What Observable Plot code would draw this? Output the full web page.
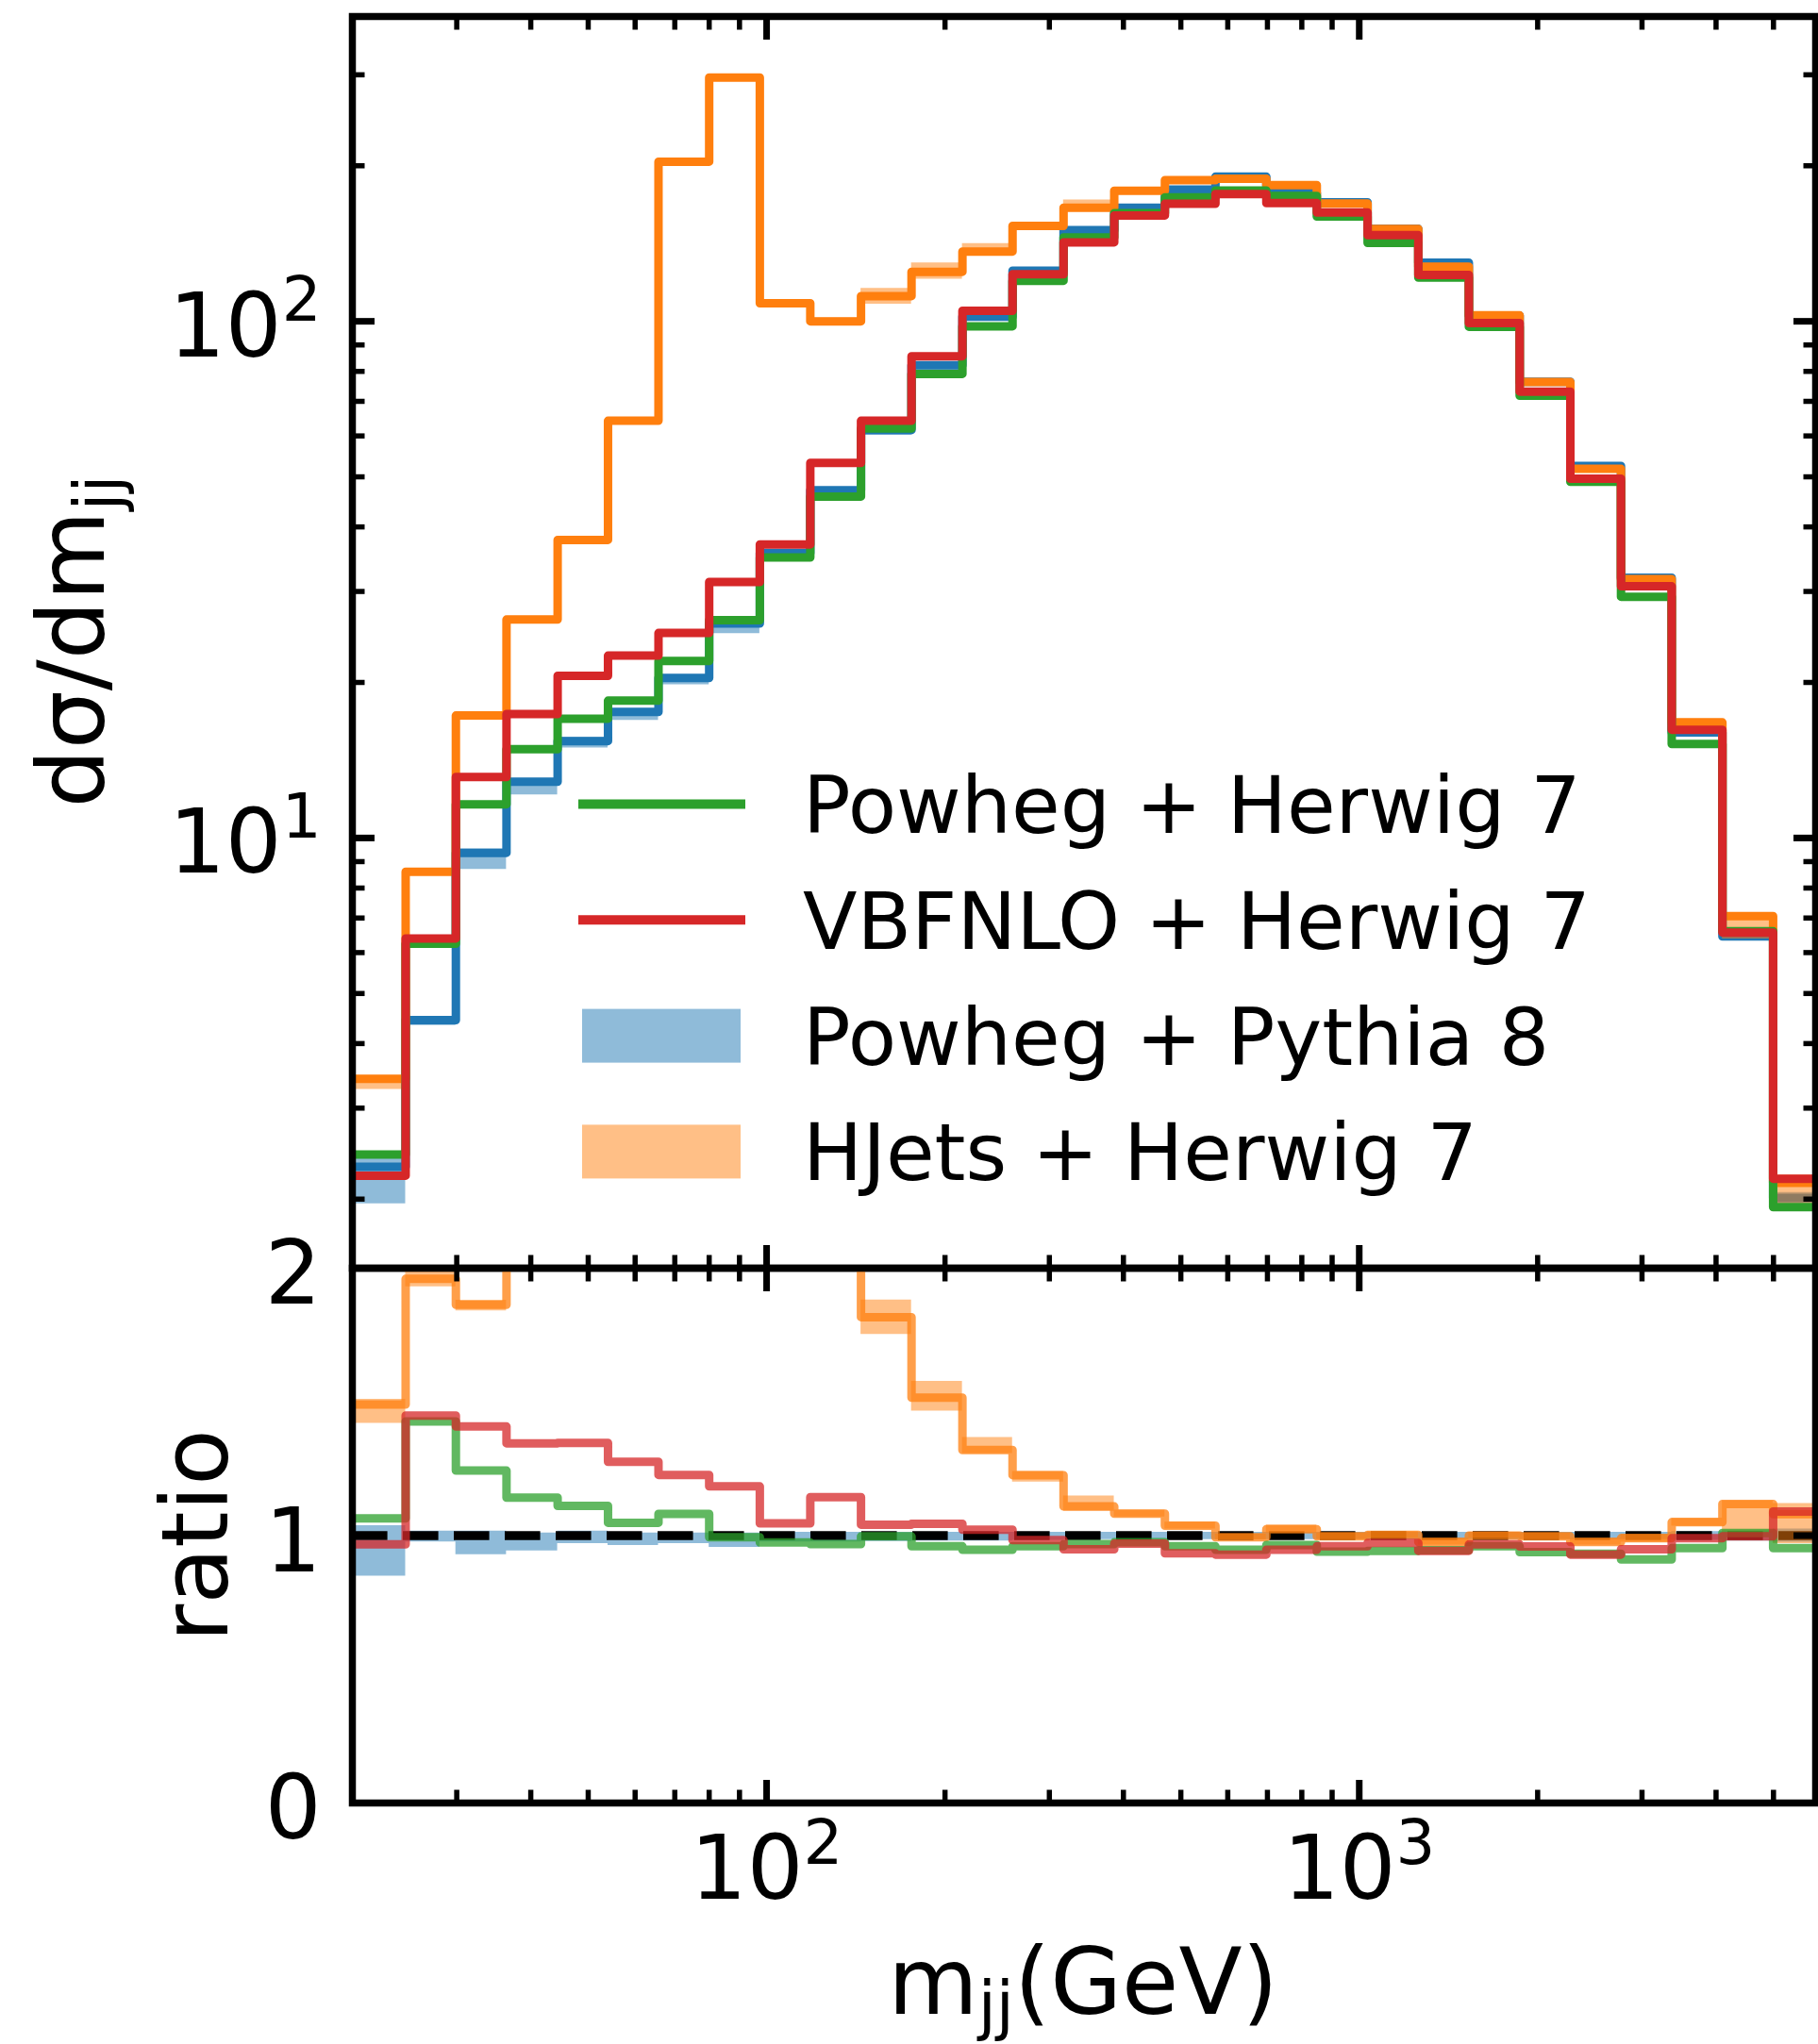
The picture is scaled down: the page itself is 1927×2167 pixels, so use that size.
<!DOCTYPE html>
<html>
<head>
<meta charset="utf-8">
<script src="https://cdn.jsdelivr.net/npm/d3@7"></script>
<script src="https://cdn.jsdelivr.net/npm/@observablehq/plot@0.6"></script>
<style>
  html, body { margin: 0; padding: 0; background: #fff; }
  #figure { position: relative; width: 1927px; height: 2167px; background: #fff; overflow: hidden; }
  #figure > svg { position: absolute; left: 0; overflow: visible; }
</style>
</head>
<body>
<div id="figure"></div>
<script>
// ---- m_jj histogram: bin edges (GeV) ----
const binEdges = [20, 24.6, 29.9, 36.4, 44.4, 54.0, 65.7, 80.0, 97.4, 118.5, 144.3, 175.6, 214, 260, 317, 386, 470, 572, 697, 848, 1033, 1258, 1531, 1865, 2271, 2765, 3367, 4100, 4993, 6080];

// ---- dσ/dm_jj per bin ----
const powhegHerwig = [2.44, 6.24, 11.62, 14.85, 17.02, 18.44, 22.0, 26.4, 34.9, 45.8, 62.0, 79.1, 97.8, 119.8, 145.3, 162.0, 173.8, 179.2, 174.8, 159.5, 141.8, 121.5, 97.6, 71.8, 48.9, 29.3, 15.2, 6.6, 1.93];
const vbfnloHerwig = [2.22, 6.39, 13.12, 17.37, 20.6, 22.54, 24.93, 31.3, 37.0, 53.2, 64.2, 85.6, 104.8, 123.3, 142.2, 160.3, 168.8, 176.4, 169.4, 162.4, 146.8, 123.0, 99.2, 73.1, 49.6, 30.7, 16.2, 6.56, 2.19];
const powhegPythia = [2.31, 4.44, 9.36, 12.85, 15.4, 17.54, 20.4, 26.0, 35.6, 47.1, 61.6, 82.2, 102.1, 125.3, 150.1, 165.8, 179.8, 190.5, 177.2, 170.0, 151.0, 129.9, 102.6, 76.4, 52.5, 31.9, 16.0, 6.45, 2.01];
const hjetsHerwig  = [3.42, 8.6, 17.26, 26.47, 37.75, 64.2, 203.7, 296.3, 108.4, 100.0, 111.9, 124.7, 136.5, 153.0, 165.9, 179.0, 187.6, 188.8, 183.5, 169.0, 150.9, 127.6, 102.7, 76.3, 51.8, 31.7, 16.74, 7.06, 2.15];

// ---- ratios to Powheg + Pythia 8 ----
const herwigRatio = [1.064, 1.427, 1.243, 1.142, 1.111, 1.048, 1.081, 0.994, 0.974, 0.968, 0.997, 0.96, 0.947, 0.96, 0.968, 0.975, 0.96, 0.947, 0.965, 0.94, 0.943, 0.945, 0.96, 0.938, 0.932, 0.911, 0.953, 1.01, 0.953];
const vbfnloRatio = [0.967, 1.449, 1.408, 1.345, 1.347, 1.276, 1.227, 1.184, 1.046, 1.144, 1.041, 1.044, 1.022, 0.983, 0.949, 0.97, 0.934, 0.929, 0.947, 0.96, 0.973, 0.943, 0.967, 0.959, 0.929, 0.949, 0.99, 0.997, 1.09];
const hjetsRatio   = [1.49, 1.96, 1.863, 2.06, 2.45, 3.66, 9.98, 11.4, 3.0, 2.13, 1.817, 1.516, 1.32, 1.226, 1.109, 1.082, 1.037, 0.994, 1.024, 0.997, 1.003, 0.976, 1.0, 0.997, 0.976, 0.99, 1.05, 1.118, 1.08];
const hjetsRatioLo = [1.42, 1.93, 1.84, 2.03, 2.41, 3.61, 9.85, 11.25, 2.96, 2.10, 1.752, 1.466, 1.307, 1.20, 1.091, 1.07, 1.025, 0.984, 1.01, 0.985, 0.99, 0.965, 0.99, 0.985, 0.965, 0.975, 1.035, 1.01, 0.97];
const hjetsRatioHi = [1.51, 1.99, 1.88, 2.09, 2.49, 3.71, 10.1, 11.55, 3.04, 2.16, 1.881, 1.577, 1.367, 1.24, 1.148, 1.095, 1.05, 1.005, 1.04, 1.01, 1.015, 0.99, 1.012, 1.01, 0.99, 1.005, 1.065, 1.13, 1.12];
const pythiaRatioLo = [0.848, 0.976, 0.929, 0.943, 0.97, 0.963, 0.97, 0.956, 0.976, 0.976, 0.978, 0.98, 0.98, 0.982, 0.985, 0.985, 0.985, 0.985, 0.985, 0.985, 0.985, 0.985, 0.985, 0.985, 0.985, 0.985, 0.982, 0.98, 0.975];
const pythiaRatioHi = [1.037, 1.017, 1.017, 1.01, 1.017, 1.01, 1.01, 1.01, 1.012, 1.012, 1.012, 1.012, 1.012, 1.012, 1.012, 1.012, 1.012, 1.012, 1.012, 1.012, 1.012, 1.012, 1.012, 1.012, 1.012, 1.012, 1.015, 1.018, 1.025];

// ---- axis ticks ----
const xMajorTicks = [100, 1000];
const xMinorTicks = [30, 40, 50, 60, 70, 80, 90, 200, 300, 400, 500, 600, 700, 800, 900, 2000, 3000, 4000, 5000];
const yMainMajorTicks = [10, 100];
const yMainMinorTicks = [2, 3, 4, 5, 6, 7, 8, 9, 20, 30, 40, 50, 60, 70, 80, 90, 200, 300];
const yRatioTicks = [0, 1, 2];

// ---- legend ----
const legendLabels = ["Powheg + Herwig 7", "VBFNLO + Herwig 7", "Powheg + Pythia 8", "HJets + Herwig 7"];

const COLORS = {green: "#2ca02c", red: "#d62728", blue: "#1f77b4", orange: "#ff7f0e"};
const FONT = "DejaVu Sans, sans-serif";
const W = 1927, H = 2167;
const LW = 9;               // histogram line width
const TICK_FONT = 94, LABEL_FONT = 98, LEGEND_FONT = 84;
const xDomain = [20, 5890];

// one row per bin edge; the last bin's value is repeated at the closing edge
const stepRows = (vals) => binEdges.map((m, i) => ({m, v: vals[Math.min(i, vals.length - 1)]}));
const bandRows = (lo, hi) => binEdges.map((m, i) => {
  const j = Math.min(i, lo.length - 1);
  return {m, lo: lo[j], hi: hi[j]};
});

// uncertainty bands in the upper panel, scaled from the ratio bands
const pythiaLo = powhegPythia.map((v, i) => v * pythiaRatioLo[i]);
const pythiaHi = powhegPythia.map((v, i) => v * pythiaRatioHi[i]);
const hjetsLo = hjetsHerwig.map((v, i) => v * hjetsRatioLo[i] / hjetsRatio[i]);
const hjetsHi = hjetsHerwig.map((v, i) => v * hjetsRatioHi[i] / hjetsRatio[i]);

const SUPER = "⁰¹²³⁴⁵⁶⁷⁸⁹";
const powFormat = (d) => "10" + SUPER[Math.round(Math.log10(d))];

// inward ticks on all four sides
function inwardTicks(yMajor, yMinor) {
  const m = [];
  for (const anchor of ["top", "bottom"]) {
    m.push(Plot.axisX({anchor, ticks: xMajorTicks, tickSize: -24, strokeWidth: 7, fill: "none", label: null}));
    m.push(Plot.axisX({anchor, ticks: xMinorTicks, tickSize: -13.5, strokeWidth: 5.5, fill: "none", label: null}));
  }
  for (const anchor of ["left", "right"]) {
    m.push(Plot.axisY({anchor, ticks: yMajor, tickSize: -24, strokeWidth: 7, fill: "none", label: null}));
    if (yMinor.length) m.push(Plot.axisY({anchor, ticks: yMinor, tickSize: -13.5, strokeWidth: 5.5, fill: "none", label: null}));
  }
  return m;
}

const fig = document.getElementById("figure");

// ---------- upper panel: dσ/dm_jj ----------
const main = Plot.plot({
  width: W, height: 1354,
  marginLeft: 373, marginRight: 3, marginTop: 17, marginBottom: 10,
  style: {fontFamily: FONT, background: "transparent", overflow: "visible", color: "black"},
  x: {type: "log", domain: xDomain},
  y: {type: "log", domain: [1.47, 389]},
  marks: [
    Plot.areaY(bandRows(pythiaLo, pythiaHi), {x: "m", y1: "lo", y2: "hi", curve: "step-after", fill: COLORS.blue, fillOpacity: 0.5, clip: true}),
    Plot.line(stepRows(powhegPythia), {x: "m", y: "v", curve: "step-after", stroke: COLORS.blue, strokeWidth: LW, clip: true}),
    Plot.areaY(bandRows(hjetsLo, hjetsHi), {x: "m", y1: "lo", y2: "hi", curve: "step-after", fill: COLORS.orange, fillOpacity: 0.5, clip: true}),
    Plot.line(stepRows(hjetsHerwig), {x: "m", y: "v", curve: "step-after", stroke: COLORS.orange, strokeWidth: LW, clip: true}),
    Plot.line(stepRows(powhegHerwig), {x: "m", y: "v", curve: "step-after", stroke: COLORS.green, strokeWidth: LW, clip: true}),
    Plot.line(stepRows(vbfnloHerwig), {x: "m", y: "v", curve: "step-after", stroke: COLORS.red, strokeWidth: LW, clip: true}),
    Plot.frame({stroke: "black", strokeWidth: 7.5}),
    ...inwardTicks(yMainMajorTicks, yMainMinorTicks),
    Plot.axisY({anchor: "left", ticks: yMainMajorTicks, tickFormat: powFormat, tickSize: 0, tickPadding: 33, fontSize: TICK_FONT, dy: 7, label: null})
  ]
});
main.style.top = "0px";
fig.appendChild(main);

// ---------- lower panel: ratio ----------
const ratio = Plot.plot({
  width: W, height: 833,
  marginLeft: 373, marginRight: 3, marginTop: 10, marginBottom: 256,
  style: {fontFamily: FONT, background: "transparent", overflow: "visible", color: "black"},
  x: {type: "log", domain: xDomain},
  y: {domain: [0, 2]},
  marks: [
    Plot.areaY(bandRows(pythiaRatioLo, pythiaRatioHi), {x: "m", y1: "lo", y2: "hi", curve: "step-after", fill: COLORS.blue, fillOpacity: 0.5, clip: true}),
    Plot.ruleY([1], {stroke: "black", strokeWidth: 9.5, strokeDasharray: "37.6,16.4"}),
    Plot.areaY(bandRows(hjetsRatioLo, hjetsRatioHi), {x: "m", y1: "lo", y2: "hi", curve: "step-after", fill: COLORS.orange, fillOpacity: 0.5, clip: true}),
    Plot.line(stepRows(hjetsRatio), {x: "m", y: "v", curve: "step-after", stroke: COLORS.orange, strokeOpacity: 0.75, strokeWidth: LW, clip: true}),
    Plot.line(stepRows(herwigRatio), {x: "m", y: "v", curve: "step-after", stroke: COLORS.green, strokeOpacity: 0.75, strokeWidth: LW, clip: true}),
    Plot.line(stepRows(vbfnloRatio), {x: "m", y: "v", curve: "step-after", stroke: COLORS.red, strokeOpacity: 0.75, strokeWidth: LW, clip: true}),
    Plot.frame({stroke: "black", strokeWidth: 7.5}),
    ...inwardTicks(yRatioTicks, []),
    Plot.axisY({anchor: "left", ticks: yRatioTicks, tickFormat: (d) => String(d), tickSize: 0, tickPadding: 33, fontSize: TICK_FONT, dy: 7.5, label: null}),
    Plot.axisX({anchor: "bottom", ticks: xMajorTicks, tickFormat: powFormat, tickSize: 0, tickPadding: 35, fontSize: TICK_FONT, label: null})
  ]
});
ratio.style.top = "1334px";
fig.appendChild(ratio);

// turn "10²"-style tick labels into a base with a raised, smaller exponent
const SUPER_TO_DIGIT = Object.fromEntries([...SUPER].map((c, i) => [c, String(i)]));
for (const svg of [main, ratio]) {
  d3.select(svg).selectAll("text").each(function () {
    const t = this.textContent;
    const m = /^10([⁰¹²³⁴⁵⁶⁷⁸⁹])$/.exec(t);
    if (!m) return;
    const sel = d3.select(this);
    sel.text("10");
    sel.append("tspan")
      .attr("font-size", TICK_FONT * 0.7)
      .attr("dy", -0.4 * TICK_FONT)
      .text(SUPER_TO_DIGIT[m[1]]);
  });
}

// ---------- axis titles and legend ----------
const overlay = d3.select(fig).append("svg")
  .attr("width", W).attr("height", H)
  .style("top", "0px")
  .attr("font-family", FONT)
  .attr("fill", "black");

// y title, upper panel: dσ/dm_jj
const yTitle = overlay.append("text")
  .attr("transform", "translate(110,680) rotate(-90)")
  .attr("text-anchor", "middle")
  .attr("font-size", LABEL_FONT);
yTitle.append("tspan").text("dσ/dm");
yTitle.append("tspan").attr("font-size", LABEL_FONT * 0.7).attr("dy", 18).text("jj");

// y title, lower panel
overlay.append("text")
  .attr("transform", "translate(241,1628) rotate(-90)")
  .attr("text-anchor", "middle")
  .attr("font-size", LABEL_FONT)
  .text("ratio");

// x title: m_jj(GeV)
const xTitle = overlay.append("text")
  .attr("x", 1148).attr("y", 2135)
  .attr("text-anchor", "middle")
  .attr("font-size", LABEL_FONT);
xTitle.append("tspan").text("m");
xTitle.append("tspan").attr("font-size", LABEL_FONT * 0.7).attr("dy", 15).text("jj");
xTitle.append("tspan").attr("dy", -15).text("(GeV)");

// legend
const legendRows = [
  {label: legendLabels[0], color: COLORS.green, kind: "line"},
  {label: legendLabels[1], color: COLORS.red, kind: "line"},
  {label: legendLabels[2], color: COLORS.blue, kind: "band"},
  {label: legendLabels[3], color: COLORS.orange, kind: "band"}
];
const legend = overlay.append("g");
legendRows.forEach((r, i) => {
  const cy = 852.5 + i * 122.8;
  if (r.kind === "line") {
    legend.append("line")
      .attr("x1", 613).attr("x2", 790).attr("y1", cy).attr("y2", cy)
      .attr("stroke", r.color).attr("stroke-width", 10);
  } else {
    legend.append("rect")
      .attr("x", 617).attr("y", cy - 28.5).attr("width", 168).attr("height", 57)
      .attr("fill", r.color).attr("fill-opacity", 0.5);
  }
  legend.append("text")
    .attr("x", 851).attr("y", cy + 30.5)
    .attr("font-size", LEGEND_FONT)
    .text(r.label);
});
</script>
</body>
</html>
